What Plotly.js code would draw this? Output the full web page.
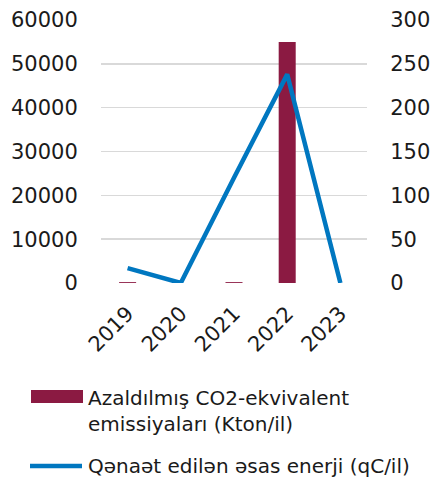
<!DOCTYPE html>
<html>
<head>
<meta charset="utf-8">
<script src="https://cdn.plot.ly/plotly-3.0.1.min.js"></script>
<style>
  html, body { margin: 0; padding: 0; background: #fff; }
  #chart { width: 431px; height: 477px; }
</style>
</head>
<body>
<div id="chart"></div>
<script>
// Məlumatlar
const years = ['2019', '2020', '2021', '2022', '2023'];
const co2Reduced = [200, 0, 200, 55000, 0];      // Kton/il
const energySaved = [17, 0, 120, 238, 0];        // qC/il

const barName = 'Azaldılmış CO2-ekvivalent<br>emissiyaları (Kton/il)';
const lineName = 'Qənaət edilən əsas enerji (qC/il)';

const font = 'DejaVu Sans, sans-serif';
const barColor = '#8b1a42';
const lineColor = '#0077c0';

const bars = {
    x: years,
    y: co2Reduced,
    type: 'bar',
    name: barName,
    width: 0.32,
    marker: { color: barColor },
    yaxis: 'y'
};

const line = {
    x: years,
    y: energySaved,
    type: 'scatter',
    mode: 'lines',
    name: lineName,
    line: { color: lineColor, width: 4.5 },
    yaxis: 'y2'
};

const layout = {
    width: 431,
    height: 477,
    margin: { l: 101, r: 64, t: 20, b: 194 },
    paper_bgcolor: '#fff',
    plot_bgcolor: '#fff',
    showlegend: false,
    font: { family: font, size: 21, color: '#1a1a1a' },
    xaxis: {
        type: 'category',
        tickangle: -45,
        ticks: 'outside',
        ticklen: 9,
        tickcolor: 'rgba(0,0,0,0)',
        showline: false,
        showgrid: false,
        zeroline: false
    },
    yaxis: {
        range: [0, 60000],
        dtick: 10000,
        tickformat: 'd',
        showgrid: true,
        gridcolor: '#d9d9d9',
        gridwidth: 1.5,
        zeroline: false,
        ticks: 'outside',
        ticklen: 18,
        tickcolor: 'rgba(0,0,0,0)'
    },
    yaxis2: {
        range: [0, 300],
        dtick: 50,
        overlaying: 'y',
        side: 'right',
        showgrid: false,
        zeroline: false,
        ticks: 'outside',
        ticklen: 18,
        tickcolor: 'rgba(0,0,0,0)'
    },
    // Legenda əl ilə
    shapes: [
        { type: 'rect', xref: 'paper', yref: 'paper',
          x0: -70 / 266, x1: -18 / 266, y0: (283 - 403) / 263, y1: (283 - 390) / 263,
          fillcolor: barColor, line: { width: 0 } },
        { type: 'line', xref: 'paper', yref: 'paper',
          x0: -71 / 266, x1: -19 / 266, y0: (283 - 466) / 263, y1: (283 - 466) / 263,
          line: { color: lineColor, width: 4.5 } }
    ],
    annotations: [
        { xref: 'paper', yref: 'paper', x: -15 / 266, y: (283 - 411) / 263,
          xanchor: 'left', yanchor: 'middle', align: 'left', showarrow: false,
          text: barName, font: { family: font, size: 20, color: '#1a1a1a' } },
        { xref: 'paper', yref: 'paper', x: -15 / 266, y: (283 - 466) / 263,
          xanchor: 'left', yanchor: 'middle', align: 'left', showarrow: false,
          text: lineName, font: { family: font, size: 20, color: '#1a1a1a' } }
    ]
};

Plotly.newPlot('chart', [bars, line], layout, { displayModeBar: false, staticPlot: true });
</script>
</body>
</html>
